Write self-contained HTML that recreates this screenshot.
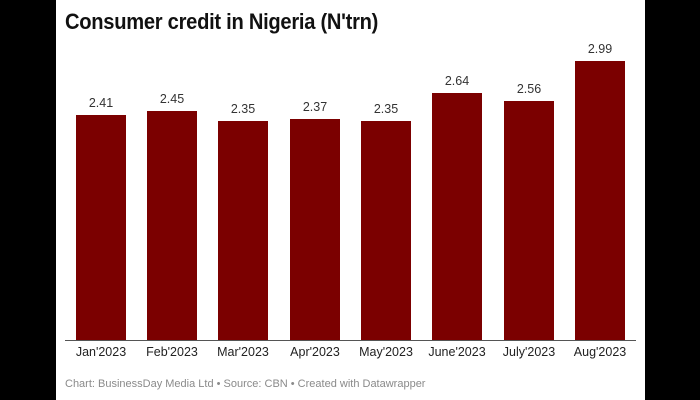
<!DOCTYPE html>
<html><head><style>
body{margin:0;width:700px;height:400px;background:#000;position:relative;overflow:hidden;font-family:"Liberation Sans",sans-serif}
#w{position:absolute;left:56px;top:0;width:589px;height:400px;background:#fff}
.t{position:absolute;left:65px;top:9px;font-size:22px;font-weight:bold;color:#111;letter-spacing:-0.3px;transform:scaleX(0.915);transform-origin:left;white-space:nowrap}
.b{position:absolute;width:50px;background:#7b0000}
.v{position:absolute;width:70px;text-align:center;font-size:12.5px;color:#333}
.x{position:absolute;width:80px;text-align:center;font-size:12.5px;color:#222;top:345px}
.ax{position:absolute;left:65px;width:571px;top:340px;height:1px;background:#555}
.f{position:absolute;left:65px;top:378px;font-size:11px;color:#8a8a8a}
</style></head><body>
<div id="w"></div>
<div class="t">Consumer credit in Nigeria (N'trn)</div>
<div id="c"></div>
<div class="ax"></div>
<div class="f">Chart: BusinessDay Media Ltd • Source: CBN • Created with Datawrapper</div>
<script>
var d=[["Jan'2023",2.41,76],["Feb'2023",2.45,147],["Mar'2023",2.35,218],["Apr'2023",2.37,290],["May'2023",2.35,361],["June'2023",2.64,432],["July'2023",2.56,504],["Aug'2023",2.99,575]];
var h="";d.forEach(function(e){var ht=Math.round(e[1]*93.4);var top=340-ht;
h+='<div class="b" style="left:'+e[2]+'px;top:'+top+'px;height:'+ht+'px"></div>';
h+='<div class="v" style="left:'+(e[2]-10)+'px;top:'+(top-19)+'px">'+e[1].toFixed(2)+'</div>';
h+='<div class="x" style="left:'+(e[2]-15)+'px">'+e[0]+'</div>';});
document.getElementById("c").innerHTML=h;
</script>
</body></html>
